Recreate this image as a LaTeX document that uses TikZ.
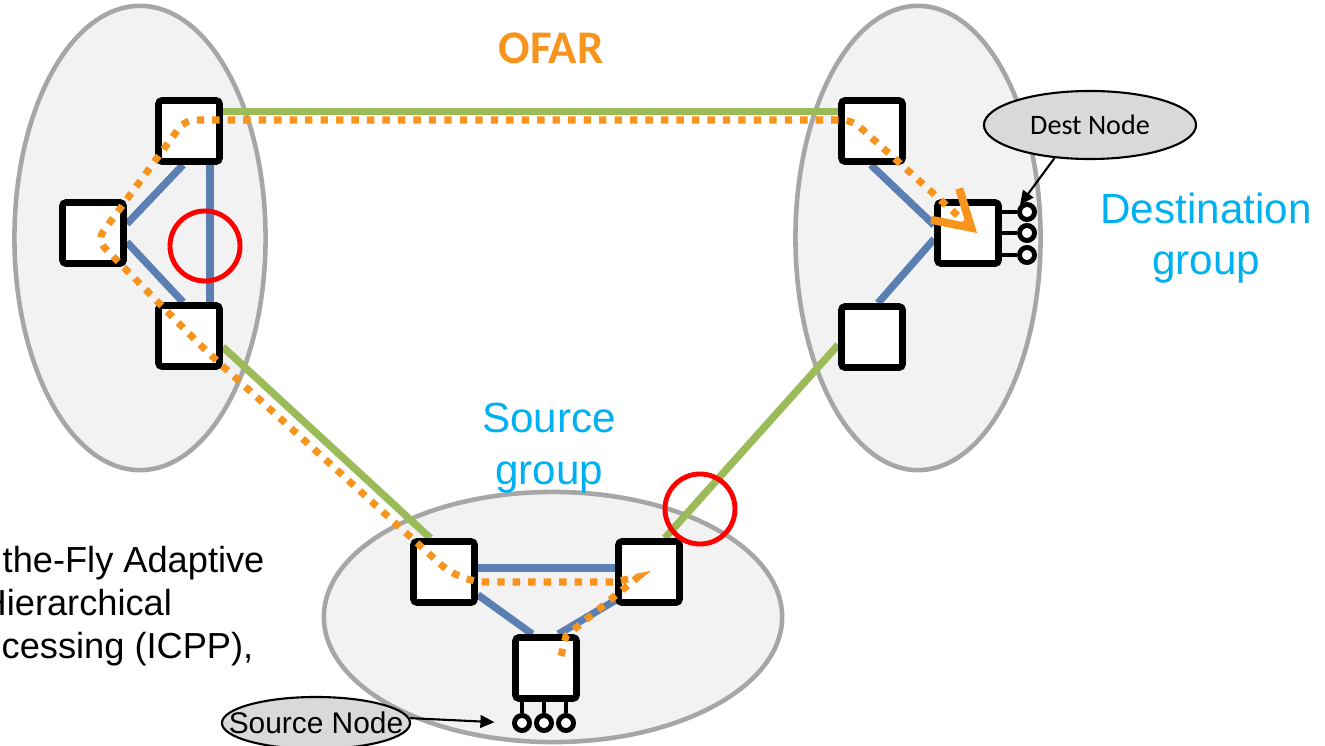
\documentclass[tikz,border=0pt]{standalone}
\usepackage{fontspec}
\setmainfont{Liberation Sans}
\newfontfamily\carlito{Carlito}
\usetikzlibrary{arrows.meta,shapes.geometric}
\definecolor{grpgray}{HTML}{F2F2F2}
\definecolor{grpline}{HTML}{A6A6A6}
\definecolor{linkblue}{HTML}{5B7FB3}
\definecolor{linkgreen}{HTML}{9BBB59}
\definecolor{ofar}{HTML}{F7941D}
\definecolor{grpcyan}{HTML}{00B0F0}
\definecolor{calloutgray}{HTML}{D9D9D9}
\pgfdeclarelayer{groups}
\pgfdeclarelayer{links}
\pgfsetlayers{groups,links,main}

\begin{document}
\begin{tikzpicture}[x=0.01cm,y=-0.01cm,
  group/.style={ellipse,draw=grpline,fill=grpgray,line width=1.3pt,
    inner sep=0pt},
  switch/.style={draw=black,fill=white,line width=1.9pt,rounded corners=1pt,
    minimum size=0.61cm,inner sep=0pt},
  port/.style={circle,draw=black,fill=white,line width=1.4pt,
    minimum size=0.15cm,inner sep=0pt},
  local/.style={draw=linkblue,line width=2.1pt},
  global/.style={draw=linkgreen,line width=2.1pt},
  wire/.style={draw=black,line width=1.4pt},
  route/.style={draw=ofar,line width=2pt,dash pattern=on 2.1pt off 2.3pt},
  fault/.style={circle,draw=red,line width=1.4pt,minimum size=0.70cm,
    inner sep=0pt},
  callout/.style={ellipse,draw=black,fill=calloutgray,line width=0.6pt,
    inner sep=0pt},
  pointer/.style={-{Triangle[length=4pt,width=3.6pt]},draw=black,
    line width=0.6pt},
  grouplabel/.style={text=grpcyan,align=center,
    font=\fontsize{12}{14.6}\selectfont}]
\useasboundingbox (0,0) rectangle (1325,746);
\clip (0,0) rectangle (1325,746);

% groups
\begin{pgfonlayer}{groups}
\node[group,minimum width=2.51cm,minimum height=4.64cm] (lgrp) at (140,238) {};
\node[group,minimum width=2.45cm,minimum height=4.64cm] (dgrp) at (918,238) {};
\node[group,minimum width=4.58cm,minimum height=2.50cm] (sgrp) at (553,617) {};
\end{pgfonlayer}

% switches
\node[switch] (lt) at (189,131) {};
\node[switch] (lm) at (93,233) {};
\node[switch] (lb) at (189,336) {};
\node[switch] (dt) at (872,131) {};
\node[switch] (dn) at (968,233) {};
\node[switch] (db) at (872,337) {};
\node[switch] (sl) at (444,572) {};
\node[switch] (sr) at (649,572) {};
\node[switch] (sn) at (546,668) {};

% terminals
\node[port] (dp1) at (1027,212) {};
\node[port] (dp2) at (1027,233) {};
\node[port] (dp3) at (1027,255) {};
\node[port] (sp1) at (522,723) {};
\node[port] (sp2) at (544,723) {};
\node[port] (sp3) at (566,723) {};

\begin{pgfonlayer}{links}
\draw[local] (lt.260)--(lm.15);
\draw[local] (lm.-15)--(lb.100);
\draw[local] (lt.-58)--(lb.58);
\draw[local] (dt.-92)--(dn.167);
\draw[local] (dn.190)--(db.80);
\draw[local] (sl.7)--(sr.173);
\draw[local] (sl.-34)--(sn.112);
\draw[local] (sr.220)--(sn.70);
\draw[global] (lt.30)--(dt.150);
\draw[global] (lb.-18)--(sl.112);
\draw[global] (db.193)--(sr.65);
\foreach \p in {dp1,dp2,dp3} \draw[wire] (dn.east |- \p)--(\p.west);
\foreach \p in {sp1,sp2,sp3} \draw[wire] (sn.south -| \p)--(\p.north);
\end{pgfonlayer}

% OFAR route
\draw[route,-{Straight Barb[length=10pt,width=12pt,line width=2.3pt]}]
  (561,656)--(566,636)--(638,577)--(613,582)
  [rounded corners=0.25cm]--(460,582)--(205,350)
  [rounded corners=0.1cm]--(97,240)--(185,120)--(852,120)--(977,233);

\node[fault] (f1) at (205,246) {};
\node[fault] (f2) at (700,509) {};

\node[font=\carlito\bfseries\fontsize{13.3}{15}\selectfont,text=ofar] (title) at (551,48) {OFAR};
\node[grouplabel] (srclabel) at (549,448) {Source\\group};
\node[grouplabel] (dstlabel) at (1206,238) {Destination\\group};

\node[callout,minimum width=2.12cm,minimum height=0.68cm,
  font=\carlito\fontsize{8}{10}\selectfont] (dest) at (1090,125) {Dest Node};
\node[callout,minimum width=1.88cm,minimum height=0.52cm,
  label={[font=\fontsize{8.5}{10}\selectfont,inner sep=0pt]center:Source Node}] (src) at (316,723) {};
\draw[pointer] (dest.223)--(dp1.north west);
\draw[pointer,shorten >=5pt] (src.3)--(sp1.west);

\node[anchor=base west,inner sep=0pt,font=\fontsize{10.3}{12}\selectfont] (cite1) at (2,572) {the-Fly Adaptive};
\node[anchor=base west,inner sep=0pt,font=\fontsize{10.3}{12}\selectfont] (cite2) at (-20,615) {Hierarchical};
\node[anchor=base west,inner sep=0pt,font=\fontsize{10.3}{12}\selectfont] (cite3) at (1,658) {cessing (ICPP),};
\end{tikzpicture}
\end{document}
